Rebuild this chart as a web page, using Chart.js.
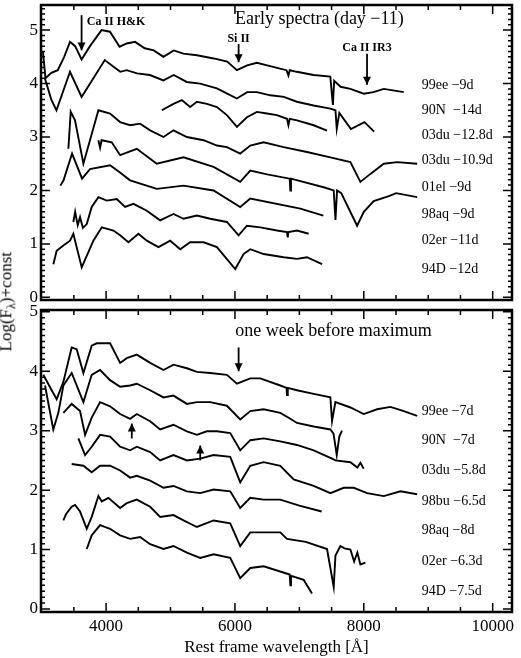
<!DOCTYPE html>
<html><head><meta charset="utf-8">
<script src="https://cdn.jsdelivr.net/npm/chart.js@4.4.0/dist/chart.umd.min.js"></script>
<style>
body{margin:0;background:#fff;width:521px;height:658px;position:relative;overflow:hidden;font-family:"Liberation Serif",serif}
canvas{position:absolute;left:0}
#ytitle{position:absolute;left:-92px;top:290px;width:200px;text-align:center;transform:rotate(-90deg);font-size:17px;color:#000}
</style></head><body>
<canvas id="c1" width="521" height="305" style="top:0;width:521px;height:305px"></canvas>
<canvas id="c2" width="521" height="353" style="top:305px;width:521px;height:353px"></canvas>
<div id="ytitle">Log(F<sub style="font-size:12px">λ</sub>)+const</div>
<script>
const xTicks=[4000,6000,8000,10000];
const yTicks=[0,1,2,3,4,5];
// ---- top panel (early spectra, day -11)
const t_99ee=[[3020,4.6],[3060,4.1],[3150,4.2],[3250,4.25],[3350,4.5],[3440,4.78],[3520,4.7],[3620,4.45],[3750,4.7],[3930,5.0],[4060,4.97],[4210,4.69],[4320,4.75],[4450,4.78],[4600,4.66],[4740,4.62],[4890,4.5],[5050,4.62],[5200,4.56],[5410,4.53],[5670,4.47],[5880,4.41],[6030,4.25],[6190,4.34],[6340,4.39],[6500,4.34],[6700,4.28],[6800,4.25],[6830,4.15],[6850,4.25],[6960,4.22],[7220,4.16],[7480,4.13],[7520,3.6],[7540,4.05],[7640,3.94],[7790,3.9],[8000,3.81],[8150,3.84],[8310,3.9],[8620,3.84]];
const t_90N=[[3050,4.1],[3150,3.7],[3230,3.5],[3440,4.22],[3620,3.75],[3980,4.44],[4090,4.34],[4220,4.22],[4320,4.25],[4480,4.19],[4680,4.16],[4890,4.06],[5050,4.16],[5250,4.03],[5460,4.0],[5720,3.91],[5880,3.81],[6030,3.72],[6190,3.84],[6340,3.84],[6550,3.78],[6760,3.75],[6960,3.66],[7220,3.59],[7480,3.53],[7560,3.5],[7580,3.15],[7620,3.45],[7800,3.15],[8010,3.28],[8160,3.1]];
const t_03du128=[[4865,3.5],[5046,3.62],[5176,3.69],[5305,3.56],[5409,3.66],[5564,3.62],[5720,3.56],[5875,3.41],[6031,3.19],[6186,3.37],[6341,3.47],[6497,3.44],[6652,3.41],[6808,3.34],[6830,3.22],[6850,3.34],[6963,3.31],[7222,3.22],[7429,3.12]];
const t_03du109=[[3415,2.78],[3451,3.47],[3518,3.31],[3648,2.5],[3881,3.5],[4062,3.44],[4218,3.28],[4373,3.22],[4528,3.25],[4684,3.125],[4891,3.0],[5046,3.125],[5254,3.0],[5513,2.94],[5720,2.84],[5875,2.81],[6082,2.69],[6238,2.84],[6445,2.9],[6756,2.81],[7118,2.72],[7481,2.62],[7792,2.53],[7947,2.16],[8103,2.31],[8310,2.5],[8517,2.53],[8828,2.5]];
const t_01el=[[3880,2.94],[3907,2.8],[3930,2.94],[4088,2.9],[4218,2.66],[4477,2.78],[4787,2.5],[5202,2.62],[5668,2.44],[6082,2.16],[6238,2.37],[6500,2.3],[6850,2.22],[6860,2.0],[6870,2.22],[7377,2.06],[7533,2.0],[7560,1.45],[7585,2.0],[7650,1.95],[7896,1.34],[8000,1.6],[8154,1.8],[8400,1.9],[8500,1.95],[8828,1.875]];
const t_98aq=[[3290,2.09],[3340,2.19],[3472,2.69],[3627,2.22],[3750,2.4],[4062,2.47],[4200,2.35],[4373,2.19],[4787,2.03],[5202,2.09],[5668,2.0],[6082,1.69],[6238,1.85],[7015,1.66],[7372,1.53]];
const t_02er=[[3492,1.41],[3520,1.6],[3560,1.35],[3596,1.5],[3640,1.3],[3700,1.37],[3777,1.69],[3881,1.875],[4010,1.81],[4166,1.84],[4295,1.69],[4425,1.75],[4632,1.62],[4839,1.44],[5046,1.56],[5202,1.47],[5409,1.53],[5616,1.47],[5875,1.41],[6057,1.16],[6186,1.34],[6393,1.31],[6652,1.25],[6808,1.22],[6820,1.12],[6830,1.22],[6963,1.25],[7144,1.19]];
const t_94D=[[3182,0.62],[3233,0.87],[3337,0.97],[3441,1.06],[3492,1.19],[3622,0.56],[3803,1.06],[3933,1.31],[4114,1.25],[4218,1.16],[4347,1.03],[4502,1.19],[4632,1.06],[4813,0.94],[4995,1.06],[5150,0.9],[5305,1.03],[5513,1.03],[5720,0.94],[6005,0.53],[6134,0.81],[6238,0.9],[6445,0.81],[6756,0.75],[6963,0.72],[7118,0.75],[7352,0.62]];
// ---- bottom panel (one week before maximum)
const b_99ee=[[3026,3.94],[3156,3.68],[3233,3.53],[3337,3.82],[3466,4.40],[3544,4.37],[3648,3.97],[3777,4.43],[3855,4.47],[4062,4.47],[4218,4.14],[4321,4.22],[4477,4.28],[4684,4.14],[4891,4.02],[5046,4.11],[5254,4.05],[5409,3.99],[5616,3.97],[5875,3.94],[6031,3.79],[6238,3.88],[6393,3.88],[6704,3.76],[6800,3.72],[6808,3.6],[6820,3.72],[6963,3.68],[7222,3.62],[7481,3.56],[7507,3.16],[7559,3.48],[7792,3.39],[7999,3.28],[8206,3.36],[8413,3.40],[8621,3.33],[8828,3.25]];
const b_90N=[[3052,3.76],[3181,3.02],[3259,3.3],[3337,3.76],[3466,3.97],[3648,3.48],[3777,3.94],[3907,4.02],[4062,3.85],[4218,3.74],[4373,3.76],[4477,3.79],[4684,3.68],[4891,3.56],[5046,3.59],[5254,3.45],[5409,3.48],[5616,3.48],[5875,3.42],[6082,3.19],[6238,3.33],[6445,3.36],[6704,3.30],[6860,3.2],[6963,3.13],[7222,3.07],[7481,3.02],[7530,2.95],[7580,2.59],[7620,2.9],[7662,3.0]];
const b_03du=[[3337,3.30],[3466,3.45],[3596,3.33],[3674,2.93],[3777,3.22],[3907,3.48],[4062,3.41],[4218,3.28],[4373,3.20],[4477,3.28],[4684,3.16],[4839,3.02],[5046,3.10],[5254,2.99],[5409,2.93],[5564,2.99],[5720,2.99],[5927,2.96],[6082,2.67],[6238,2.84],[6445,2.87],[6704,2.82],[6963,2.76],[7222,2.67],[7507,2.53],[7560,2.5],[7792,2.47],[7900,2.38],[7947,2.46],[7999,2.36]];
const b_98bu=[[3570,2.87],[3674,2.59],[3777,2.73],[3907,2.93],[4062,2.90],[4218,2.73],[4373,2.67],[4477,2.73],[4684,2.64],[4839,2.50],[5046,2.59],[5254,2.50],[5461,2.53],[5668,2.59],[5927,2.56],[6082,2.13],[6238,2.41],[6445,2.47],[6704,2.41],[6911,2.18],[7222,2.07],[7481,1.95],[7688,2.04],[7844,2.04],[8051,1.95],[8310,1.90],[8569,1.98],[8828,1.93]];
const b_98aq=[[3466,2.44],[3648,2.41],[3777,2.30],[3907,2.41],[4062,2.41],[4218,2.33],[4373,2.21],[4477,2.24],[4684,2.16],[4891,2.04],[5046,2.07],[5254,1.98],[5461,1.95],[5668,2.01],[5927,1.98],[6082,1.70],[6238,1.87],[6445,1.84],[6704,1.84],[7000,1.74],[7346,1.64]];
const b_02er=[[3337,1.49],[3380,1.6],[3466,1.72],[3518,1.75],[3596,1.64],[3700,1.35],[3777,1.55],[3881,1.90],[3933,1.81],[4036,1.87],[4218,1.70],[4321,1.78],[4477,1.84],[4684,1.72],[4839,1.55],[5046,1.58],[5202,1.49],[5409,1.38],[5668,1.49],[5927,1.44],[6082,1.06],[6238,1.29],[6445,1.29],[6704,1.29],[6808,1.18],[7100,1.13],[7429,1.01],[7533,0.37],[7560,0.9],[7636,1.06],[7700,1.02],[7792,1.0],[7850,0.8],[7900,0.95],[7947,0.75],[8025,0.78]];
const b_94D=[[3700,1.01],[3777,1.24],[3907,1.41],[4062,1.35],[4218,1.24],[4373,1.18],[4528,1.21],[4684,1.09],[4891,1.01],[5046,1.06],[5254,0.95],[5461,0.86],[5668,0.92],[5927,0.86],[6082,0.52],[6238,0.69],[6445,0.72],[6850,0.58],[6860,0.4],[6870,0.56],[7067,0.49],[7196,0.26]];
const topNames=["99ee −9d","90N  −14d","03du −12.8d","03du −10.9d","01el −9d","98aq −9d","02er −11d","94D −12d"];
const botNames=["99ee −7d","90N  −7d","03du −5.8d","98bu −6.5d","98aq −8d","02er −6.3d","94D −7.5d"];

const SERIF='"Liberation Serif", "DejaVu Serif", serif';
function frameTicks(chart,showX){
  const {ctx,chartArea:a,scales:{x,y}}=chart;
  ctx.save();ctx.strokeStyle='#000';ctx.fillStyle='#000';ctx.lineWidth=2.5;
  ctx.strokeRect(a.left,a.top,a.right-a.left,a.bottom-a.top);
  ctx.lineWidth=1.5;
  for(let v=3000;v<=10300;v+=500){const px=x.getPixelForValue(v);if(px<a.left+1||px>a.right-1)continue;
    const L=(v%2000===0)?9:5;ctx.beginPath();ctx.moveTo(px,a.bottom);ctx.lineTo(px,a.bottom-L);ctx.moveTo(px,a.top);ctx.lineTo(px,a.top+L);ctx.stroke();}
  for(let i=0;i<=55;i++){const v=i/10;const py=y.getPixelForValue(v);if(py<a.top+1||py>a.bottom-1)continue;
    const L=(i%10===0)?9:4;ctx.beginPath();ctx.moveTo(a.left,py);ctx.lineTo(a.left+L,py);ctx.moveTo(a.right,py);ctx.lineTo(a.right-L,py);ctx.stroke();}
  ctx.font='17px '+SERIF;ctx.textBaseline='middle';ctx.textAlign='right';
  yTicks.forEach(v=>ctx.fillText(String(v),a.left-3,y.getPixelForValue(v)));
  if(showX){ctx.textAlign='center';ctx.textBaseline='top';
    xTicks.forEach(v=>ctx.fillText(String(v),x.getPixelForValue(v),a.bottom+6));
    ctx.fillText('Rest frame wavelength [Å]',(a.left+a.right)/2,a.bottom+27);}
  ctx.restore();
}
function annot(chart,texts,arrows){
  const {ctx,scales:{x,y}}=chart;ctx.save();ctx.fillStyle='#000';ctx.strokeStyle='#000';
  texts.forEach(t=>{ctx.font=t.f;ctx.textAlign=t.a||'left';ctx.textBaseline='middle';ctx.fillText(t.s,x.getPixelForValue(t.x),y.getPixelForValue(t.y));});
  arrows.forEach(r=>{const px=x.getPixelForValue(r.x),y0=y.getPixelForValue(r.y0),y1=y.getPixelForValue(r.y1);
    ctx.lineWidth=1.8;ctx.beginPath();ctx.moveTo(px,y0);ctx.lineTo(px,y1);ctx.stroke();
    const d=y1>y0?1:-1;ctx.beginPath();ctx.moveTo(px,y1);ctx.lineTo(px-4,y1-8*d);ctx.lineTo(px+4,y1-8*d);ctx.closePath();ctx.fill();});
  ctx.restore();
}
function makeChart(id,series,yMax,showX,texts,arrows){
  return new Chart(document.getElementById(id),{type:'line',
    data:{datasets:series.map(s=>({data:s.map(p=>({x:p[0],y:p[1]})),borderColor:'#000',borderWidth:1.9,pointRadius:0,tension:0,fill:false}))},
    options:{responsive:false,animation:false,events:[],
      layout:{padding:{top:5,right:9,left:41,bottom:showX?46:5}},
      plugins:{legend:{display:false},tooltip:{enabled:false}},
      scales:{
        x:{type:'linear',display:false,min:2990,max:10300},
        y:{display:false,min:-0.05,max:yMax}}},
    plugins:[{id:'deco',afterDatasetsDraw:c=>{frameTicks(c,showX);annot(c,texts,arrows);}}]});
}
const lab='14px '+SERIF, bold='bold 12px '+SERIF, big='18px '+SERIF;
const topTexts=[{s:'Ca II H&K',x:3700,y:5.16,f:bold},{s:'Early spectra (day −11)',x:6000,y:5.2,f:big},
  {s:'Si II',x:6057,y:4.84,f:bold,a:'center'},{s:'Ca II IR3',x:8050,y:4.66,f:bold,a:'center'}]
  .concat(topNames.map((n,i)=>({s:n,x:8900,y:[3.97,3.5,3.03,2.56,2.06,1.56,1.06,0.53][i],f:lab})));
const topArrows=[{x:3620,y0:5.28,y1:4.62},{x:6057,y0:4.74,y1:4.4},{x:8050,y0:4.56,y1:3.98}];
const botTexts=[{s:'one week before maximum',x:6005,y:4.68,f:big}]
  .concat(botNames.map((n,i)=>({s:n,x:8900,y:[3.33,2.84,2.33,1.81,1.32,0.80,0.29][i],f:lab})));
const botArrows=[{x:6057,y0:4.4,y1:4.0},{x:4399,y0:2.87,y1:3.12},{x:5461,y0:2.5,y1:2.75}];
makeChart('c1',[t_99ee,t_90N,t_03du128,t_03du109,t_01el,t_98aq,t_02er,t_94D],5.47,false,topTexts,topArrows);
makeChart('c2',[b_99ee,b_90N,b_03du,b_98bu,b_98aq,b_02er,b_94D],5.03,true,botTexts,botArrows);
</script></body></html>
